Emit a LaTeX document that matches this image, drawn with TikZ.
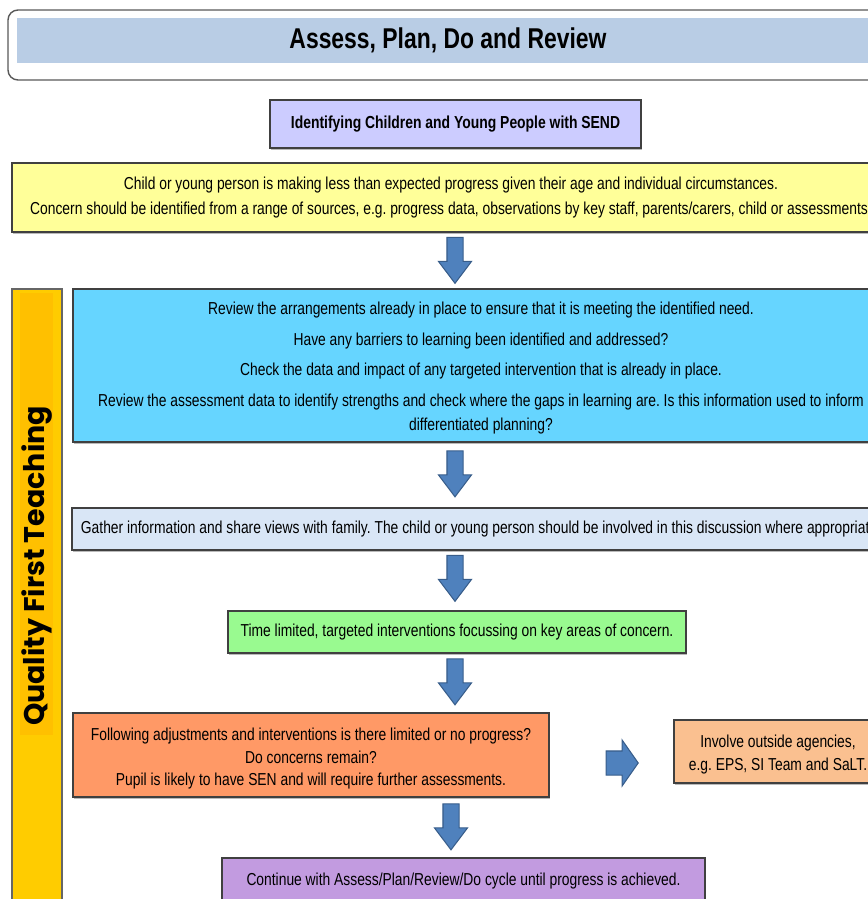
\documentclass[tikz,border=0pt]{standalone}
\usepackage{fontspec}
\setmainfont[FakeStretch=0.8]{Liberation Sans}
\newfontfamily\qftfont{Poppins}
\usepackage{tikz}
\usetikzlibrary{shapes.arrows,shadows}

\definecolor{titolo}{HTML}{B9CDE5}
\definecolor{lilla}{HTML}{CCCCFF}
\definecolor{giallo}{HTML}{FFFF99}
\definecolor{ciano}{HTML}{66D5FF}
\definecolor{azzurro}{HTML}{D9E6F6}
\definecolor{verde}{HTML}{99FA90}
\definecolor{arancio}{HTML}{FF9966}
\definecolor{pesca}{HTML}{FAC090}
\definecolor{viola}{HTML}{C29BE0}
\definecolor{barra}{HTML}{FFCC00}
\definecolor{barrab}{HTML}{FFC000}
\definecolor{freccia}{HTML}{4F81BD}
\definecolor{frecciab}{HTML}{385D8A}

\frenchspacing

\begin{document}
\begin{tikzpicture}[x=0.02cm, y=-0.02cm,
  every node/.style={font=\fontsize{9.85}{13.7}\selectfont, inner sep=0pt},
  box/.style={rectangle, draw=black!75, line width=0.8pt, align=center,
    drop shadow={shadow xshift=0.5pt, shadow yshift=-0.9pt, fill=black!45, opacity=0.6}},
  giu/.style={single arrow, draw=frecciab, fill=freccia, line width=0.6pt,
    inner sep=0.15cm, minimum height=0.92cm, single arrow head extend=0.17cm,
    single arrow tip angle=74, shape border rotate=270}]

\useasboundingbox (0,0) rectangle (868,899);
\clip (0,0) rectangle (868,899);

% Titolo
\draw[rounded corners=0.2cm, draw=black!65, line width=0.8pt, fill=white] (8,10) rectangle (940,80);
\fill[titolo] (17,18) rectangle (940,63);
\node[font=\bfseries\fontsize{16.3}{19}\selectfont] (tit) at (448,40) {Assess, Plan, Do and Review};

% Barra laterale
\draw[draw=black!60, line width=0.8pt, fill=barra] (12,289) rectangle (62,940);
\fill[barrab] (20,293) rectangle (53,735);
\node[rotate=90, font=\qftfont\bfseries\fontsize{16.2}{18}\selectfont] (qft) at (37,566) {Quality First Teaching};

% Riquadri
\node[box, fill=lilla, minimum width=7.42cm, minimum height=0.96cm, font=\bfseries\fontsize{9.9}{12}\selectfont] (ident) at (455.5,124) {Identifying Children and Young People with SEND};

\node[box, fill=giallo, minimum width=17.56cm, minimum height=1.38cm, font=\fontsize{9.85}{14.2}\selectfont] (conc) at (451,197.5)
  {Child or young person is making less than expected progress given their age and individual circumstances.\\
   Concern should be identified from a range of sources, e.g. progress data, observations by key staff, parents/carers, child or assessments.};

\node[box, fill=ciano, minimum width=16.32cm, minimum height=3.06cm] (rev) at (481,365.5)
  {\rule{0pt}{10pt}Review the arrangements already in place to ensure that it is meeting the identified need.\\[3.8pt]
   Have any barriers to learning been identified and addressed?\\[3.8pt]
   Check the data and impact of any targeted intervention that is already in place.\\[3.8pt]
   Review the assessment data to identify strengths and check where the gaps in learning are. Is this information used to inform\\
   differentiated planning?};

\node[box, fill=azzurro, minimum width=16.36cm, minimum height=0.84cm] (gath) at (481,529)
  {Gather information and share views with family. The child or young person should be involved in this discussion where appropriate.};

\node[box, fill=verde, minimum width=9.16cm, minimum height=0.84cm] (interv) at (457,632)
  {Time limited, targeted interventions focussing on key areas of concern.};

\node[box, fill=arancio, minimum width=9.52cm, minimum height=1.68cm, font=\fontsize{9.85}{12.8}\selectfont] (lim) at (311,755)
  {\rule{0pt}{11.5pt}Following adjustments and interventions is there limited or no progress?\\
   Do concerns remain?\\
   Pupil is likely to have SEN and will require further assessments.};

\node[box, fill=pesca, minimum width=4.16cm, minimum height=1.26cm, font=\fontsize{9.85}{13.1}\selectfont] (agen) at (778,751.5)
  {\rule{0pt}{10.5pt}Involve outside agencies,\\ e.g. EPS, SI Team and SaLT.};

\node[box, fill=viola, minimum width=9.66cm, minimum height=0.94cm] (cyc) at (463.5,881.5)
  {Continue with Assess/Plan/Review/Do cycle until progress is achieved.};

% Frecce
\node[giu] (f1) at (455,255) {};
\node[giu] (f2) at (455,468.5) {};
\node[giu] (f3) at (455,573) {};
\node[giu] (f4) at (455,676.5) {};
\node[giu] (f5) at (451,821.5) {};
\node[single arrow, draw=frecciab, fill=freccia, line width=0.6pt, inner xsep=0pt, inner ysep=0.23cm,
  minimum height=0.64cm, single arrow head extend=0.22cm, single arrow tip angle=110] (fd) at (618,763) {};

\end{tikzpicture}
\end{document}
